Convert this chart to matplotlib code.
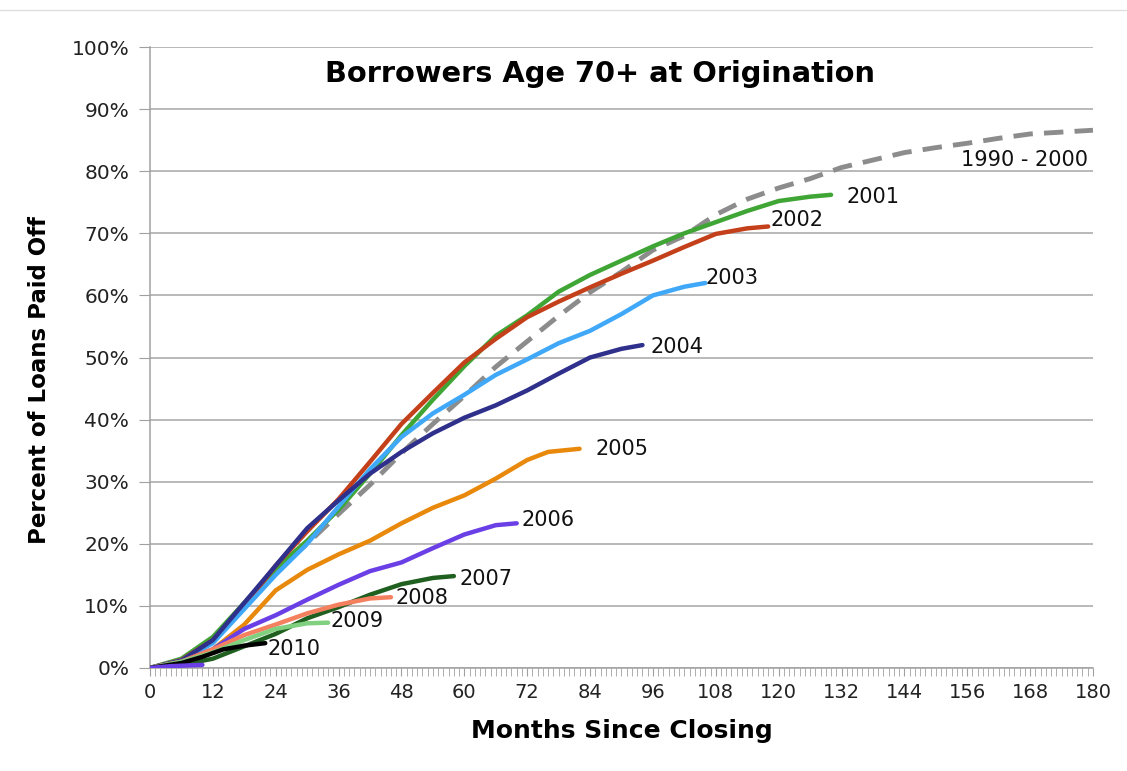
import matplotlib
matplotlib.use("Agg")
import matplotlib.pyplot as plt
from matplotlib.ticker import MultipleLocator, FuncFormatter

# months since closing / percent paid off
m_base = [0, 6, 12, 18, 24, 30, 36, 42, 48, 54, 60, 66, 72, 78, 84, 90, 96, 102,
          108, 114, 120, 126, 132, 138, 144, 150, 156, 162, 168, 174, 180]
v_base = [0, 1.2, 4.5, 10, 15.5, 20, 24.8, 29.5, 34.6, 39.3, 43.8, 48.5, 52.6, 56.7,
          60.5, 63.8, 67.3, 69.6, 73, 75.5, 77.3, 78.8, 80.6, 81.8, 83, 83.8, 84.5,
          85.3, 86, 86.3, 86.6]

m_2001 = [0, 6, 12, 18, 24, 30, 36, 42, 48, 54, 60, 66, 72, 78, 84, 90, 96, 102, 108, 114, 120, 126, 130]
v_2001 = [0, 1.5, 5, 10.5, 16, 20.5, 25.5, 31.3, 37.5, 43.2, 48.6, 53.5, 56.8, 60.6, 63.3,
          65.6, 67.9, 70, 71.8, 73.6, 75.2, 75.9, 76.2]

m_2002 = [0, 6, 12, 18, 24, 30, 36, 42, 48, 54, 60, 66, 72, 78, 84, 90, 96, 102, 108, 114, 118]
v_2002 = [0, 1.3, 4.5, 10, 16.5, 22, 27.2, 33.2, 39.3, 44.3, 49.2, 53, 56.5, 59, 61.3,
          63.5, 65.6, 67.8, 69.9, 70.8, 71.1]

m_2003 = [0, 6, 12, 18, 24, 30, 36, 42, 48, 54, 60, 66, 72, 78, 84, 90, 96, 102, 106]
v_2003 = [0, 1.2, 4, 9.5, 15, 20, 26, 32, 37.2, 41, 44, 47.2, 49.7, 52.3, 54.3, 57, 60, 61.4, 62]

m_2004 = [0, 6, 12, 18, 24, 30, 36, 42, 48, 54, 60, 66, 72, 78, 84, 90, 94]
v_2004 = [0, 1.2, 4.5, 10.5, 16.5, 22.5, 27, 31.3, 34.8, 37.8, 40.3, 42.3, 44.7, 47.4, 50, 51.4, 52]

m_2005 = [0, 6, 12, 18, 24, 30, 36, 42, 48, 54, 60, 66, 72, 76, 82]
v_2005 = [0, 1, 3, 7, 12.5, 15.8, 18.3, 20.5, 23.3, 25.8, 27.8, 30.5, 33.5, 34.8, 35.3]

m_2006 = [0, 6, 12, 18, 24, 30, 36, 42, 48, 54, 60, 66, 70]
v_2006 = [0, 1, 3, 6.3, 8.5, 11, 13.4, 15.6, 17, 19.3, 21.5, 23, 23.3]

m_2007 = [0, 6, 12, 18, 24, 30, 36, 42, 48, 54, 58]
v_2007 = [0, 0.5, 1.5, 3.5, 5.5, 8, 9.8, 11.8, 13.5, 14.5, 14.8]

m_2008 = [0, 6, 12, 18, 24, 30, 36, 42, 46]
v_2008 = [0, 1, 3, 5.3, 7, 8.8, 10.2, 11.2, 11.4]

m_2009 = [0, 6, 12, 18, 24, 30, 34]
v_2009 = [0, 1, 2.5, 4.5, 6.3, 7.2, 7.3]

m_2010 = [0, 6, 10, 14, 18, 22]
v_2010 = [0, 0.8, 1.8, 3, 3.6, 4]

m_2011 = [0, 4, 10]
v_2011 = [0, 0.3, 0.5]

labels = ["1990 - 2000", "2001", "2002", "2003", "2004", "2005", "2006",
          "2007", "2008", "2009", "2010", ""]
colors = ["#8c8c8c", "#3fa535", "#c4401a", "#40a8f8", "#2f2f8c", "#e8890c",
          "#6b3fe6", "#1f5f1f", "#f58060", "#80d080", "#000000", "#6b3fe6"]
series = [(m_base, v_base), (m_2001, v_2001), (m_2002, v_2002), (m_2003, v_2003),
          (m_2004, v_2004), (m_2005, v_2005), (m_2006, v_2006), (m_2007, v_2007),
          (m_2008, v_2008), (m_2009, v_2009), (m_2010, v_2010), (m_2011, v_2011)]
# where each end label sits (month, percent)
label_pos = [(179, 81.8), (133, 75.8), (118.5, 72.1), (106, 62.8), (95.5, 51.7),
             (85, 35.3), (71, 23.8), (59, 14.3), (46.8, 11.3), (34.5, 7.6), (22.5, 3.1)]

fig = plt.figure(figsize=(11.27, 7.71), dpi=100)
ax = fig.add_axes([0.1331, 0.1336, 0.8367, 0.8054])

for i, (m, v) in enumerate(series):
    if i == 0:
        ax.plot(m, v, color=colors[i], lw=3.5, ls=(0, (4, 2.3)), zorder=2)
    else:
        ax.plot(m, v, color=colors[i], lw=3.2, solid_capstyle="round", zorder=3)

for i, (x, y) in enumerate(label_pos):
    ax.text(x, y, labels[i], fontsize=15, va="center",
            ha="right" if i == 0 else "left", color="#111111")

ax.set_xlim(0, 180)
ax.set_ylim(0, 100)
ax.xaxis.set_major_locator(MultipleLocator(12))
ax.xaxis.set_minor_locator(MultipleLocator(1))
ax.yaxis.set_major_locator(MultipleLocator(10))
ax.yaxis.set_major_formatter(FuncFormatter(lambda v, p: "%d%%" % v))
ax.grid(axis="y", color="#a6a6a6", lw=1.1)
ax.set_axisbelow(True)
for s in ["top", "right"]:
    ax.spines[s].set_visible(False)
for s in ["left", "bottom"]:
    ax.spines[s].set_color("#a0a0a0")
    ax.spines[s].set_linewidth(1.1)
ax.tick_params(axis="x", which="both", length=6, color="#a0a0a0", labelsize=14,
               labelcolor="#222222", pad=5)
ax.tick_params(axis="y", length=8, color="#a0a0a0", labelsize=14.5,
               labelcolor="#222222", pad=7)

fig.text(0.5324, 0.904, "Borrowers Age 70+ at Origination", fontsize=20.8,
         fontweight="bold", ha="center", va="center")
ax.set_xlabel("Months Since Closing", fontsize=18, fontweight="bold", labelpad=12)
ax.set_ylabel("Percent of Loans Paid Off", fontsize=16.5, fontweight="bold")
ax.yaxis.set_label_coords(-0.105, 0.464)

fig.add_artist(plt.Line2D([0, 1], [0.987, 0.987], color="#e0e0e0", lw=1))

fig.savefig("out.png", dpi=100)
